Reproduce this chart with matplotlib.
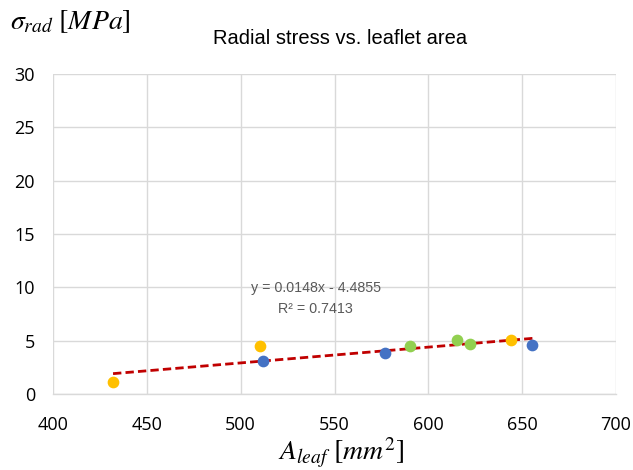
import numpy as np
import matplotlib
matplotlib.use('Agg')
import matplotlib.pyplot as plt

plt.rcParams['font.family'] = ['Liberation Sans', 'DejaVu Sans']
plt.rcParams['mathtext.fontset'] = 'stix'

# measured points, grouped by colour
blue_area = [512, 577, 655.5]
blue_stress = [3.1, 3.8, 4.6]
yellow_area = [432, 510.5, 644]
yellow_stress = [1.1, 4.5, 5.1]
green_area = [590, 615.5, 622]
green_stress = [4.5, 5.1, 4.7]

# linear trendline (from chart label)
slope = 0.0148
intercept = -4.4855
r2 = 0.7413

fig = plt.figure(figsize=(6.33, 4.70), dpi=100)
ax = fig.add_axes([53 / 633, 76 / 470, 563 / 633, 320 / 470])

grid_c = '#D9D9D9'
ax.set_xlim(400, 700)
ax.set_ylim(0, 30)
ax.set_xticks(np.arange(400, 701, 50))
ax.set_yticks(np.arange(0, 31, 5))
ax.grid(True, color=grid_c, linewidth=1)
ax.set_axisbelow(True)
for s in ['top', 'right', 'left']:
    ax.spines[s].set_visible(False)
ax.spines['bottom'].set_color(grid_c)
ax.spines['bottom'].set_linewidth(1)
ax.tick_params(length=0, colors='black')
ax.tick_params(axis='x', pad=16)
ax.tick_params(axis='y', pad=13)
for lab in ax.get_xticklabels() + ax.get_yticklabels():
    lab.set_family(['Open Sans', 'DejaVu Sans'])
    lab.set_fontsize(13)

all_x = blue_area + yellow_area + green_area
xs = np.array([min(all_x), max(all_x)])
ax.plot(xs, slope * xs + intercept, color='#C00000', linestyle='--',
        linewidth=2, dashes=(3, 1.5), zorder=2)

ax.scatter(blue_area, blue_stress, s=55, color='#4472C4', zorder=3)
ax.scatter(yellow_area, yellow_stress, s=55, color='#FFC000', zorder=3)
ax.scatter(green_area, green_stress, s=55, color='#92D050', zorder=3)

ax.text(540, 9.9, f'y = {slope}x - {abs(intercept)}', ha='center', va='center',
        fontsize=10.3, color='#595959')
ax.text(540, 8.0, f'R² = {r2}', ha='center', va='center',
        fontsize=10.3, color='#595959')

fig.text(340 / 633, 1 - 38 / 470, 'Radial stress vs. leaflet area',
         ha='center', va='center', fontsize=14.5)
fig.text(10 / 633, 1 - 22 / 470, r'$\sigma_{rad}\ [MPa]$',
         ha='left', va='center', fontsize=20)
fig.text(341 / 633, 1 - 453 / 470, r'$A_{leaf}\ [mm^2]$',
         ha='center', va='center', fontsize=20)

fig.savefig('out.png', dpi=100)
